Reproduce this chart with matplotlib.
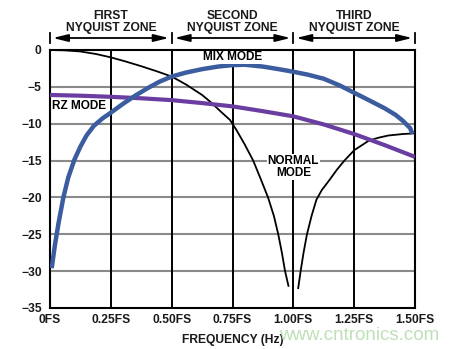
import matplotlib
matplotlib.use("Agg")
import matplotlib.pyplot as plt
from matplotlib.transforms import blended_transform_factory

plt.rcParams['font.family'] = ['Liberation Sans', 'DejaVu Sans']
plt.rcParams['font.weight'] = 'bold'

# Frequency in units of FS, amplitude in dB
mix_f = [0.007, 0.02, 0.035, 0.055, 0.075, 0.1, 0.125, 0.15, 0.18, 0.215,
         0.25, 0.3, 0.35, 0.4, 0.45, 0.5, 0.56, 0.625, 0.69, 0.75, 0.8,
         0.875, 0.94, 1.0, 1.06, 1.125, 1.19, 1.25, 1.31, 1.375, 1.42,
         1.45, 1.48, 1.49]
mix_db = [-29.6, -26.5, -23.5, -20.0, -17.3, -14.9, -13.1, -11.6, -10.3, -9.3,
          -8.5, -7.3, -6.2, -5.2, -4.3, -3.6, -3.05, -2.6, -2.25, -2.05, -2.0,
          -2.25, -2.6, -2.95, -3.35, -3.9, -4.8, -5.8, -6.8, -7.9, -8.8,
          -9.6, -10.6, -11.4]

rz_f = [0.0, 0.125, 0.25, 0.375, 0.5, 0.625, 0.75, 0.875, 1.0, 1.125,
        1.25, 1.375, 1.5]
rz_db = [-6.1, -6.2, -6.35, -6.55, -6.8, -7.2, -7.65, -8.3, -9.0, -10.1,
         -11.4, -12.9, -14.5]

normal_lo_f = [0.0, 0.06, 0.125, 0.19, 0.25, 0.31, 0.375, 0.44, 0.5, 0.56,
               0.625, 0.665, 0.7, 0.74, 0.767, 0.8, 0.835, 0.866, 0.896,
               0.92, 0.938, 0.953, 0.966, 0.98]
normal_lo_db = [0.0, -0.05, -0.2, -0.55, -1.0, -1.55, -2.2, -2.9, -3.6, -4.7,
                -6.1, -7.2, -8.3, -9.5, -10.9, -12.8, -15.0, -17.5, -20.0,
                -22.5, -25.0, -27.5, -30.0, -32.0]
normal_hi_f = [1.02, 1.03, 1.042, 1.056, 1.075, 1.095, 1.117, 1.147, 1.18,
               1.21, 1.25, 1.31, 1.35, 1.39, 1.45, 1.5]
normal_hi_db = [-32.3, -30.0, -27.5, -25.0, -22.5, -20.3, -19.0, -17.7, -16.2,
                -15.0, -13.6, -12.3, -11.9, -11.6, -11.4, -11.3]

x_ticks = [0, 0.25, 0.5, 0.75, 1.0, 1.25, 1.5]
x_tick_labels = ['0FS', '0.25FS', '0.50FS', '0.75FS', '1.00FS', '1.25FS', '1.50FS']
y_ticks = [0, -5, -10, -15, -20, -25, -30, -35]
y_tick_labels = ['0', '\u22125', '\u221210', '\u221215', '\u221220', '\u221225',
                 '\u221230', '\u221235']

zone_edges = [0, 0.5, 1.0, 1.5]
zone_names = ['FIRST', 'SECOND', 'THIRD']

W, H = 459, 349
fig = plt.figure(figsize=(W / 100, H / 100), dpi=100)
ax = fig.add_axes([50 / W, 1 - 308 / H, 365 / W, 258 / H])

ax.set_xlim(0, 1.5)
ax.set_ylim(-35, 0)

for y in y_ticks[1:-1]:
    ax.axhline(y, color='#8a8a8a', lw=1.5, zorder=1)
for x in x_ticks[1:-1]:
    ax.axvline(x, color='black', lw=1.4, zorder=1)

ax.plot(normal_lo_f, normal_lo_db, color='black', lw=1.3, zorder=3)
ax.plot(normal_hi_f, normal_hi_db, color='black', lw=1.3, zorder=3)
ax.plot(rz_f, rz_db, color='#6a3ea1', lw=3.0, solid_capstyle='butt', zorder=4)
ax.plot(mix_f, mix_db, color='#3b5c9e', lw=3.2, solid_capstyle='butt',
        solid_joinstyle='round', zorder=5)

ax.set_xticks(x_ticks)
ax.set_xticklabels(x_tick_labels)
ax.set_yticks(y_ticks)
ax.set_yticklabels(y_tick_labels)
ax.tick_params(axis='x', length=0, labelsize=8.7, pad=4)
ax.tick_params(axis='y', length=0, labelsize=8.7, pad=6)
for lab in ax.get_xticklabels() + ax.get_yticklabels():
    lab.set_fontweight('bold')
    lab.set_color('#1a1a1a')
for sp in ax.spines.values():
    sp.set_linewidth(1.5)

ax.set_xlabel('FREQUENCY (Hz)', fontsize=8.7, fontweight='bold', labelpad=6,
              color='#1a1a1a')

# Mode labels
ax.text(0.75, -1.0, 'MIX MODE', ha='center', va='center', fontsize=8.5,
        fontweight='bold', zorder=6,
        bbox=dict(facecolor='white', edgecolor='none', pad=0.5))
ax.text(0.01, -7.55, 'RZ MODE', ha='left', va='center', fontsize=8.5,
        fontweight='bold', zorder=6)
ax.text(1.0, -15.9, 'NORMAL\nMODE', ha='center', va='center', fontsize=8.5,
        fontweight='bold', linespacing=0.95, zorder=6,
        bbox=dict(facecolor='white', edgecolor='none', pad=0.8))

# Nyquist zone header
tr = blended_transform_factory(ax.transData, ax.transAxes)
arrow_y = (308 - 38) / 258
for x in zone_edges:
    ax.plot([x, x], [arrow_y - 0.02, arrow_y + 0.02], color='black', lw=1.3,
            transform=tr, clip_on=False)
for i, name in enumerate(zone_names):
    a, b = zone_edges[i], zone_edges[i + 1]
    ax.annotate('', xy=(b, arrow_y), xytext=(a, arrow_y), xycoords=tr,
                textcoords=tr,
                arrowprops=dict(arrowstyle='<|-|>,head_length=0.9,head_width=0.22',
                                color='black', lw=1.3, shrinkA=2, shrinkB=2))
    ax.text((a + b) / 2, (308 - 22) / 258, f'{name}\nNYQUIST ZONE',
            ha='center', va='center', fontsize=8.7, fontweight='bold',
            linespacing=0.9, transform=tr, color='#1a1a1a')

# Site mark
fig.text(359 / W, 1 - 335 / H, 'www.cntronics.com', ha='center', va='center',
         fontsize=13.5, fontweight='normal', color='#bfe0b8', zorder=0)

fig.savefig('out.png', dpi=100)
